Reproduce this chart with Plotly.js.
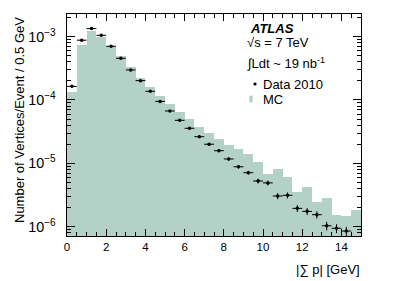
<!DOCTYPE html>
<html>
<head>
<meta charset="utf-8">
<script src="https://cdn.plot.ly/plotly-3.0.1.min.js"></script>
<style>html,body{margin:0;padding:0;background:#fff;}#chart{width:415px;height:281px;}</style>
</head>
<body>
<div id="chart"></div>
<script>
// Bin centres (0.5 GeV bins from 0 to 15 GeV)
const binCenters = [0.25,0.75,1.25,1.75,2.25,2.75,3.25,3.75,4.25,4.75,5.25,5.75,6.25,6.75,7.25,7.75,8.25,8.75,9.25,9.75,10.25,10.75,11.25,11.75,12.25,12.75,13.25,13.75,14.25,14.75];
// MC histogram values
const mcValues = [1.35e-4,7.4e-4,1.25e-3,1.0e-3,7.2e-4,4.9e-4,3.36e-4,2.25e-4,1.62e-4,1.16e-4,8.55e-5,6.45e-5,4.95e-5,3.7e-5,2.98e-5,2.42e-5,1.95e-5,1.68e-5,1.39e-5,1.05e-5,6.7e-6,8.0e-6,6.0e-6,3.56e-6,4.27e-6,2.42e-6,2.86e-6,1.54e-6,1.45e-6,1.81e-6];
// Data 2010 values (last bin not visible)
const dataValues = [1.64e-4,8.8e-4,1.34e-3,1.05e-3,7.05e-4,4.55e-4,2.98e-4,2.02e-4,1.37e-4,9.5e-5,6.7e-5,4.77e-5,3.57e-5,2.63e-5,2.0e-5,1.58e-5,1.17e-5,8.8e-6,7.1e-6,5.25e-6,4.9e-6,3.04e-6,3.12e-6,1.94e-6,1.74e-6,1.54e-6,1.03e-6,9.4e-7,8.5e-7,null];
// Data statistical errors
const dataErrors = [3e-6,1.5e-5,2e-5,1.6e-5,1.1e-5,7e-6,5e-6,4e-6,3e-6,2.2e-6,2e-6,1.6e-6,1.3e-6,1.1e-6,9e-7,8e-7,6.5e-7,5.5e-7,5e-7,4.5e-7,4.4e-7,3.3e-7,3.3e-7,2.4e-7,2.2e-7,2.0e-7,1.6e-7,1.5e-7,1.4e-7,0];
const xTickVals = [0,2,4,6,8,10,12,14];

const mcColor = '#b3d1c7';
const font = 'Liberation Sans, Arial, Helvetica, sans-serif';

const traces = [
  {
    type: 'bar', x: binCenters, y: mcValues, width: 0.5,
    marker: {color: mcColor, line: {width: 0}},
    name: 'MC', showlegend: false, hoverinfo: 'skip'
  },
  {
    type: 'scatter', mode: 'markers', x: binCenters, y: dataValues,
    marker: {color: '#000', size: 3.5},
    error_y: {type: 'data', array: dataErrors, visible: true, color: '#000', thickness: 1, width: 0},
    error_x: {type: 'constant', value: 0.25, visible: true, color: '#000', thickness: 1, width: 0},
    name: 'Data 2010', showlegend: false, cliponaxis: true
  }
];

const px = X => (X - 67) / (415 - 67 - 54);
const py = Y => (281 - 45 - Y) / (281 - 14 - 45);

const layout = {
  width: 415, height: 281,
  margin: {l: 67, r: 54, t: 14, b: 45, pad: 0},
  paper_bgcolor: '#fff', plot_bgcolor: '#fff',
  font: {family: font, size: 11, color: '#000'},
  bargap: 0,
  showlegend: false,
  xaxis: {
    range: [0, 15], tickvals: xTickVals, ticktext: xTickVals.map(String),
    ticks: 'inside', ticklen: 7, tickwidth: 1, tickcolor: '#000',
    showline: true, linecolor: '#000', linewidth: 1, mirror: 'allticks',
    showgrid: false, zeroline: false,
    minor: {dtick: 0.5, tick0: 0, ticks: 'inside', ticklen: 4, tickcolor: '#000', showgrid: false},
    tickfont: {family: font, size: 11.5}
  },
  yaxis: {
    type: 'log', range: [Math.log10(7.1e-7), -2.642], dtick: 1,
    exponentformat: 'power',
    ticks: 'inside', ticklen: 8, tickwidth: 1, tickcolor: '#000',
    showline: true, linecolor: '#000', linewidth: 1, mirror: 'allticks',
    showgrid: false, zeroline: false,
    minor: {ticks: 'inside', ticklen: 4, tickcolor: '#000', showgrid: false},
    ticklabelstandoff: 8,
    tickfont: {family: font, size: 11.5}
  },
  annotations: [
    {text: 'Number of Vertices/Event / 0.5 GeV', textangle: -90, xref: 'paper', yref: 'paper',
     x: px(20), y: py(15), xanchor: 'center', yanchor: 'top', showarrow: false,
     font: {family: font, size: 13}},
    {text: '|∑ p| [GeV]', xref: 'paper', yref: 'paper', x: px(362), y: py(269.5),
     xanchor: 'right', yanchor: 'middle', showarrow: false, font: {family: font, size: 13}},
    {text: '<b><i>ATLAS</i></b>', xref: 'paper', yref: 'paper', x: px(248), y: py(28.5),
     xanchor: 'left', yanchor: 'middle', showarrow: false, font: {family: font, size: 13}},
    {text: '√s = 7 TeV', xref: 'paper', yref: 'paper', x: px(245), y: py(42.7),
     xanchor: 'left', yanchor: 'middle', showarrow: false, font: {family: font, size: 13}},
    {text: '∫Ldt ~ 19 nb<sup>-1</sup>', xref: 'paper', yref: 'paper', x: px(245), y: py(63),
     xanchor: 'left', yanchor: 'middle', showarrow: false, font: {family: font, size: 13}},
    {text: 'Data 2010', xref: 'paper', yref: 'paper', x: px(261), y: py(84),
     xanchor: 'left', yanchor: 'middle', showarrow: false, font: {family: font, size: 13}},
    {text: 'MC', xref: 'paper', yref: 'paper', x: px(261), y: py(99),
     xanchor: 'left', yanchor: 'middle', showarrow: false, font: {family: font, size: 13}}
  ],
  shapes: [
    {type: 'circle', xref: 'paper', yref: 'paper', x0: px(253.4), x1: px(256.6), y0: py(85.6), y1: py(82.4),
     fillcolor: '#000', line: {width: 0}},
    {type: 'rect', xref: 'paper', yref: 'paper', x0: px(249.3), x1: px(252.7), y0: py(102.3), y1: py(95.7),
     fillcolor: mcColor, line: {width: 0}}
  ]
};

Plotly.newPlot('chart', traces, layout, {staticPlot: true, displayModeBar: false});
</script>
</body>
</html>
